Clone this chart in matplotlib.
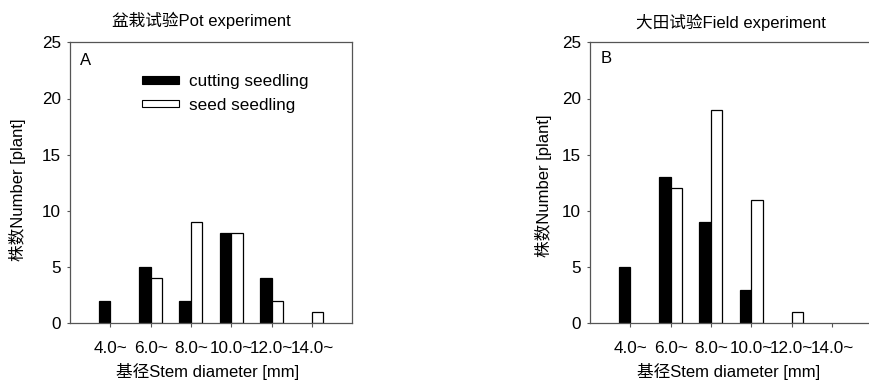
import matplotlib as mpl
mpl.use('Agg')
from matplotlib import pyplot as plt
from matplotlib.patches import Patch

plt.rcParams['font.family'] = ['Liberation Sans', 'Noto Sans CJK SC']
plt.rcParams['font.size'] = 12

# data
categories = ['4.0~', '6.0~', '8.0~', '10.0~', '12.0~', '14.0~']
pot_cutting = [2, 5, 2, 8, 4, 0]
pot_seed = [0, 4, 9, 8, 2, 1]
field_cutting = [5, 13, 9, 3, 0, 0]
field_seed = [0, 12, 19, 11, 1, 0]

W, H = 870, 383
fig = plt.figure(figsize=(W / 100, H / 100), dpi=100)

spine_col = '#555555'
bw = 0.285


def edges(vals):
    # empty classes get no outline, so nothing is drawn on the axis line
    return ['black' if v > 0 else 'none' for v in vals]


def panel(left_px, cut, seed, letter, letter_y, legend=False):
    ax = fig.add_axes([left_px / W, (H - 323.3) / H, 281.7 / W, 281.0 / H])
    x = list(range(len(categories)))
    ax.bar([i - bw / 2 for i in x], cut, width=bw, color='black',
           edgecolor=edges(cut), linewidth=0.9)
    ax.bar([i + bw / 2 for i in x], seed, width=bw, color='white',
           edgecolor=edges(seed), linewidth=0.9)
    ax.set_xlim(-1.0, 5.985)
    ax.set_ylim(0, 25)
    ax.set_yticks([0, 5, 10, 15, 20, 25])
    ax.set_xticks(x)
    ax.set_xticklabels(categories)
    for s in ax.spines.values():
        s.set_color(spine_col)
        s.set_linewidth(0.9)
    ax.tick_params(axis='y', direction='out', length=2.5, width=0.8,
                   color=spine_col, pad=4, labelsize=12.3)
    ax.tick_params(axis='x', direction='out', length=3, width=0.8,
                   color=spine_col, pad=10, labelsize=12.3)
    ax.text(0.036, letter_y, letter, transform=ax.transAxes,
            ha='left', va='center', fontsize=12)
    if legend:
        handles = [Patch(facecolor='black', edgecolor='black', linewidth=0.8),
                   Patch(facecolor='white', edgecolor='black', linewidth=0.8)]
        ax.legend(handles, ['cutting seedling', 'seed seedling'],
                  loc='upper left', bbox_to_anchor=(0.2545, 0.886),
                  frameon=False, borderpad=0, borderaxespad=0,
                  handlelength=2.2, handleheight=0.3, handletextpad=0.55,
                  labelspacing=0.48, fontsize=12.3)
    return ax


panel(70, pot_cutting, pot_seed, 'A', 0.935, legend=True)
panel(590, field_cutting, field_seed, 'B', 0.942)

fig.text(201.7 / W, 1 - 20 / H, '盆栽试验Pot experiment',
         ha='center', va='center', fontsize=12)
fig.text(731 / W, 1 - 22 / H, '大田试验Field experiment',
         ha='center', va='center', fontsize=12)
fig.text(208 / W, 1 - 372 / H, '基径Stem diameter [mm]',
         ha='center', va='center', fontsize=12)
fig.text(729 / W, 1 - 372 / H, '基径Stem diameter [mm]',
         ha='center', va='center', fontsize=12)
fig.text(18 / W, 1 - 190 / H, '株数Number [plant]', rotation=90,
         ha='center', va='center', fontsize=12)
fig.text(543 / W, 1 - 186 / H, '株数Number [plant]', rotation=90,
         ha='center', va='center', fontsize=12)

fig.savefig('out.png', dpi=100)
